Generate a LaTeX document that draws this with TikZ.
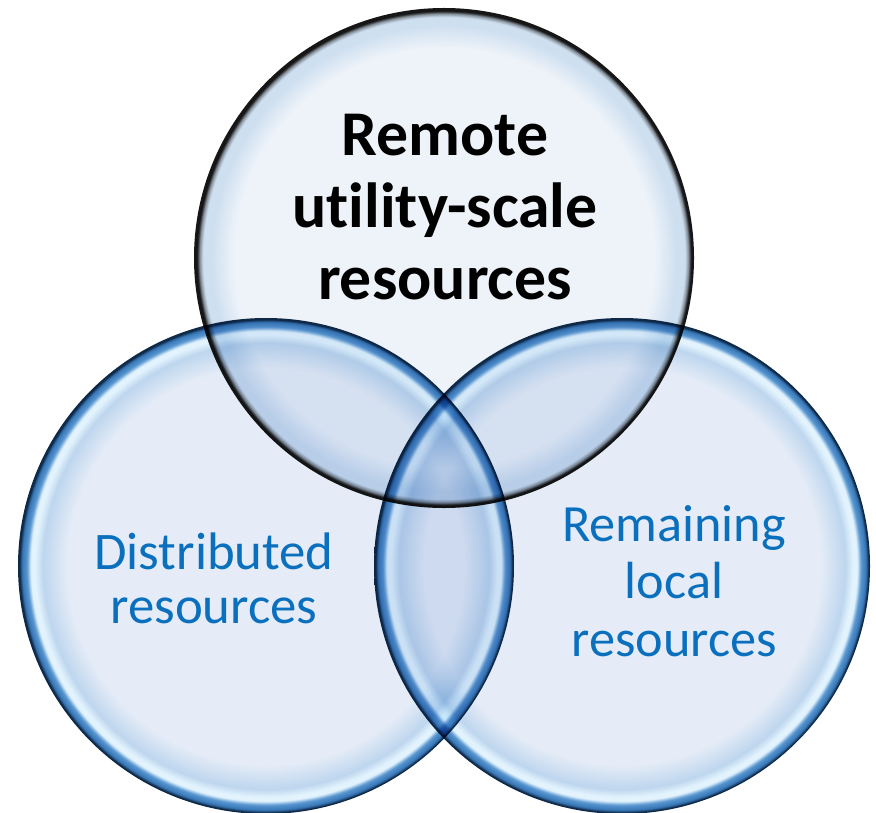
\documentclass[tikz,border=0pt]{standalone}
\usepackage{fontspec}
\setmainfont{Carlito}[Ligatures=NoCommon]

\definecolor{bubin}{RGB}{229,236,247}
\definecolor{bubsoft}{RGB}{190,214,238}
\definecolor{bubmid}{RGB}{88,150,208}
\definecolor{bubhi}{RGB}{226,243,253}
\definecolor{bubblue}{RGB}{55,118,182}
\definecolor{bubdark}{RGB}{15,42,72}
\definecolor{topin}{RGB}{238,243,249}
\definecolor{topsoft}{RGB}{206,223,240}
\definecolor{topgrey}{RGB}{130,140,150}
\definecolor{topdark}{RGB}{22,22,22}
\definecolor{txtblue}{RGB}{10,112,190}

% the circle edge sits at 25bp of the shading
\pgfdeclareradialshading{blueglass}{\pgfpointorigin}{color(0bp)=(bubin); color(20bp)=(bubin); color(22.5bp)=(bubsoft); color(23.3bp)=(bubhi); color(23.7bp)=(bubhi); color(24.1bp)=(bubmid); color(24.6bp)=(bubblue); color(24.85bp)=(bubdark); color(50bp)=(bubdark)}
\pgfdeclareradialshading{greyglass}{\pgfpointorigin}{color(0bp)=(topin); color(21bp)=(topin); color(23.3bp)=(topsoft); color(24.1bp)=(topsoft); color(24.45bp)=(topgrey); color(24.7bp)=(topdark); color(50bp)=(topdark)}

\tikzset{
  topbubble/.style={circle, inner sep=0pt, minimum size=500bp, shading=greyglass},
  bubble/.style={circle, inner sep=0pt, minimum size=496bp, shading=blueglass},
  bluelabel/.style={text=txtblue, align=center, inner sep=0pt}
}

\begin{document}
\begin{tikzpicture}[x=1bp,y=-1bp]

  \fill[white] (0,0) rectangle (876,813);
  \useasboundingbox (0,0) rectangle (876,813);

  \begin{scope}[blend mode=multiply]
    \node[topbubble] (remotec) at (444,258) {};
    \node[bubble] (distc) at (266,566) {};
    \node[bubble] (localc) at (622,566) {};
  \end{scope}

  \node[align=center, inner sep=0pt, font=\fontsize{64}{72}\selectfont\bfseries] (remote) at (445,207) {Remote\\utility-scale\\resources};
  \node[bluelabel, font=\fontsize{53}{54}\selectfont] (distributed) at (214,578) {Distributed\\resources};
  \node[bluelabel, font=\fontsize{52.5}{58}\selectfont] (remaining) at (674,581) {Remaining\\local\\resources};
\end{tikzpicture}
\end{document}
